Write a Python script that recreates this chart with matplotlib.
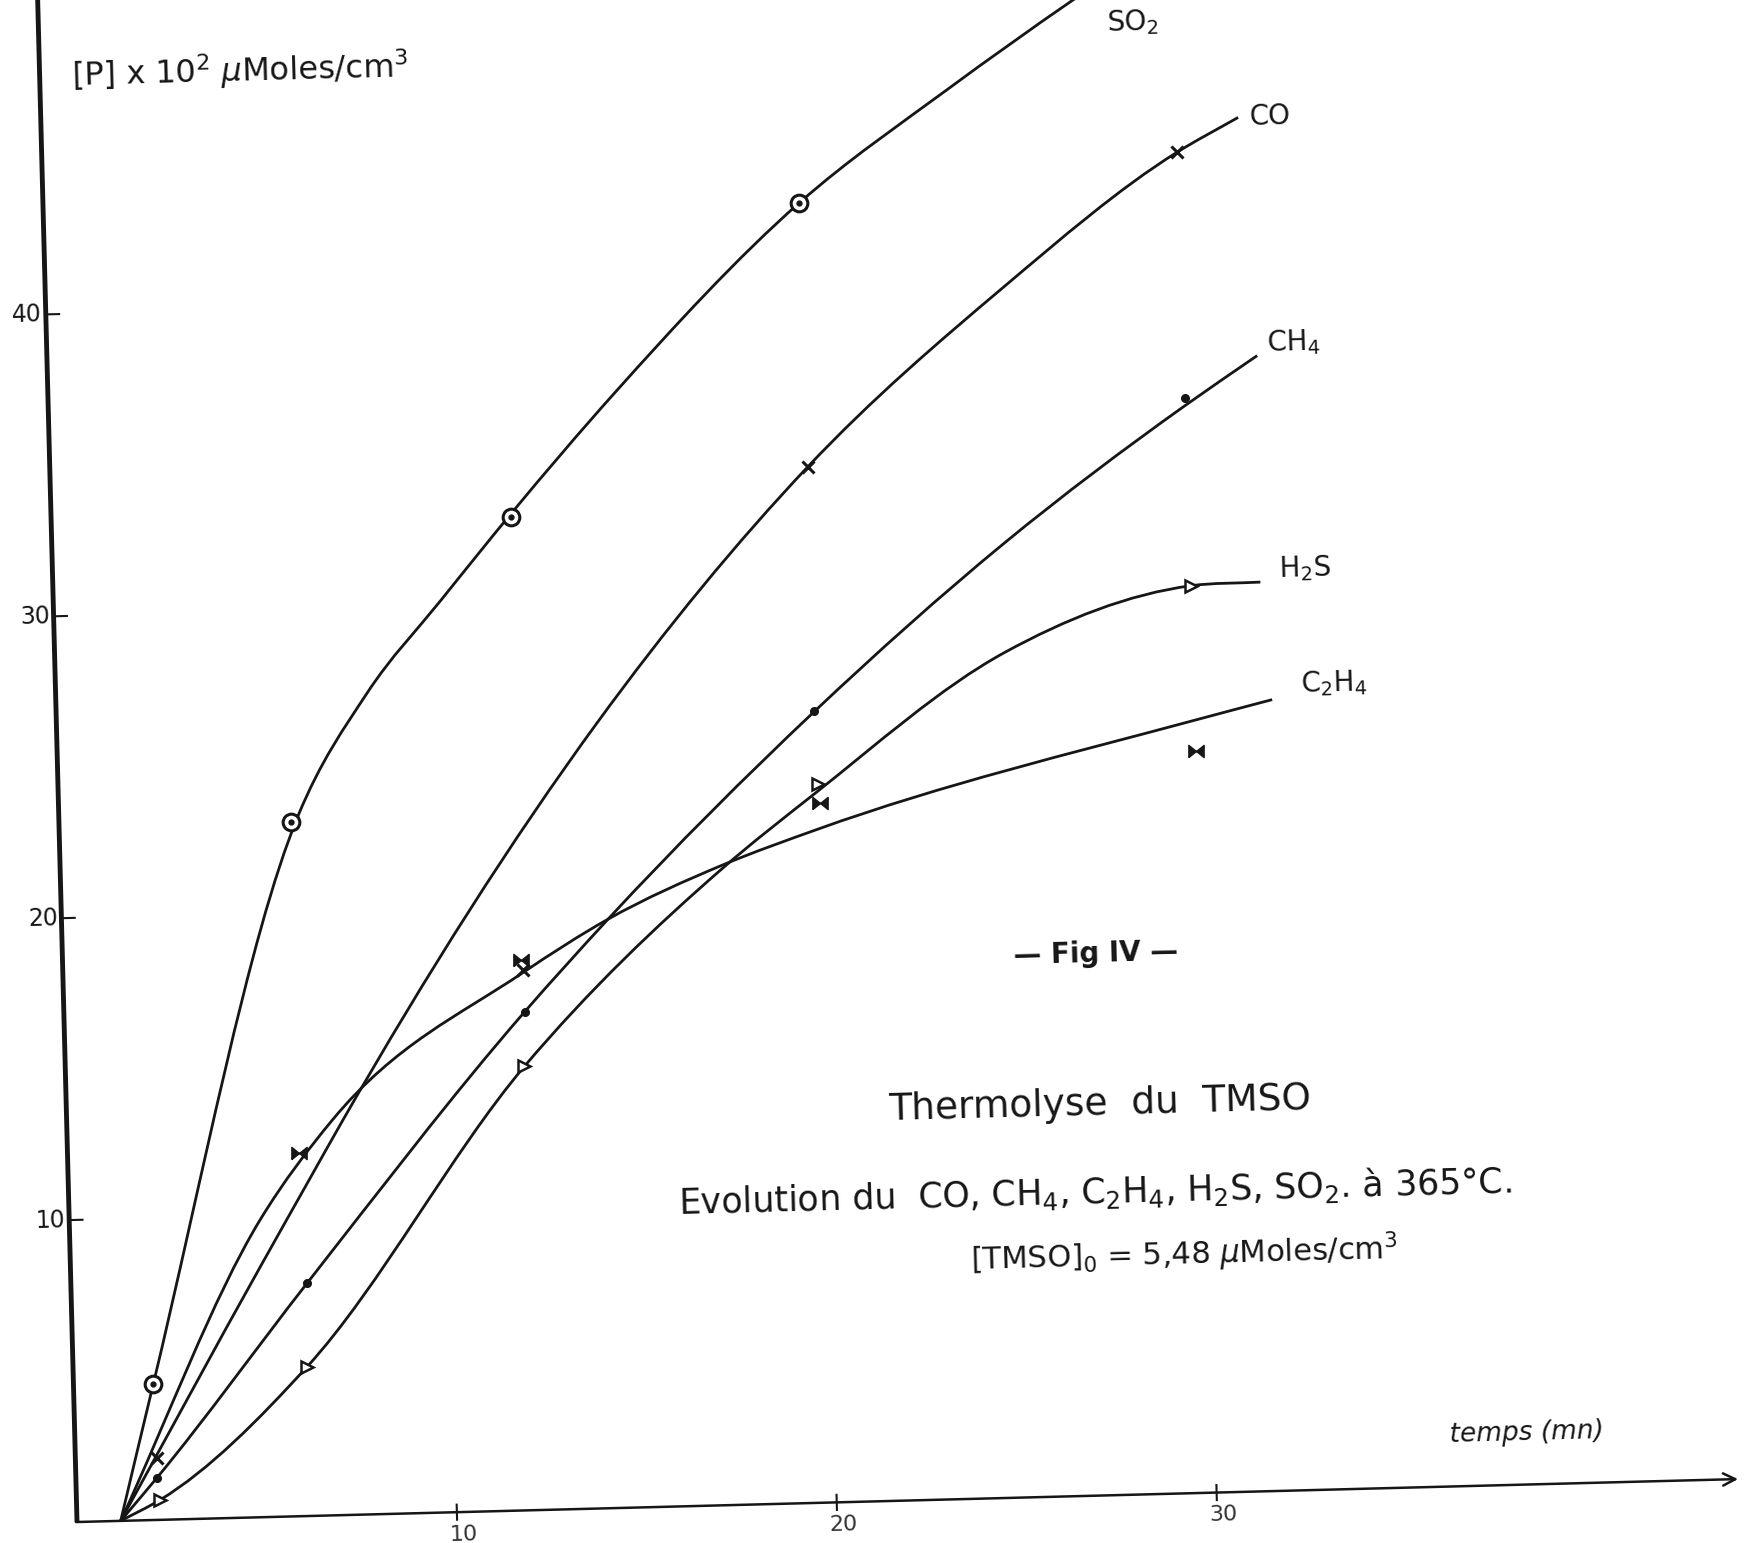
import numpy as np
import matplotlib
matplotlib.use('Agg')
import matplotlib.pyplot as plt
import matplotlib.transforms as mtransforms
from matplotlib.path import Path
from matplotlib.patches import PathPatch

# curves as drawn (time in mn, [P] x 10^2 umoles/cm3)
so2_t = [1.15, 2.1, 6.3, 8.2, 10.2, 12.1, 14.9, 19.9, 23.9, 27.2, 28.0]
so2_v = [0, 4.5, 23.2, 27.2, 30.2, 33.0, 36.9, 43.05, 46.7, 49.5, 50.15]
co_t = [1.15, 4.99, 6.28, 7.27, 14.22, 19.94, 25.2, 29.87, 31.5]
co_v = [0, 8.28, 11.0, 13.08, 26.0, 34.3, 40.07, 44.4, 45.5]
ch4_t = [1.15, 2.13, 6.21, 12.12, 14.38, 19.95, 25.05, 29.9, 31.84]
ch4_v = [0, 1.39, 7.7, 16.5, 19.5, 26.2, 31.6, 36.0, 37.6]
h2s_t = [1.15, 2.2, 6.15, 12.08, 17.44, 19.86, 24.98, 29.95, 31.77]
h2s_v = [0, 0.66, 4.93, 14.7, 21.1, 23.44, 27.98, 30.04, 30.1]
c2h4_t = [1.15, 5.02, 7.0, 12.1, 14.38, 17.44, 19.96, 30.0, 32.0]
c2h4_v = [0, 9.84, 13.1, 17.8, 19.5, 21.2, 22.3, 25.6, 26.2]

# measured points
so2_mt = [2.1, 6.1, 12.1, 19.9]
so2_mv = [4.5, 23.0, 32.9, 43.05]
co_mt = [2.15, 12.1, 19.94, 29.87]
co_mv = [2.05, 17.9, 34.3, 44.4]
ch4_mt = [2.13, 6.21, 12.12, 19.95, 29.9]
ch4_mv = [1.39, 7.7, 16.5, 26.2, 36.25]
h2s_mt = [2.2, 6.15, 12.08, 20.0, 29.95]
h2s_mv = [0.66, 4.93, 14.7, 23.8, 30.04]
c2h4_mt = [6.09, 12.06, 20.04, 29.96]
c2h4_mv = [12.03, 18.23, 23.15, 24.57]

yticks = [10, 20, 30, 40]
xticks = [10, 20, 30]

ink = '#161616'
tilt = 1.48   # the scanned sheet is slightly rotated


def smooth_path(xs, ys):
    xs = np.asarray(xs, float)
    ys = np.asarray(ys, float)
    h = np.diff(xs)
    d = np.diff(ys) / h
    m = np.empty_like(xs)
    m[0] = d[0]
    m[-1] = d[-1]
    m[1:-1] = (d[:-1] * h[1:] + d[1:] * h[:-1]) / (h[:-1] + h[1:])
    verts = [(xs[0], ys[0])]
    codes = [Path.MOVETO]
    for i in range(len(h)):
        verts += [(xs[i] + h[i] / 3, ys[i] + m[i] * h[i] / 3),
                  (xs[i + 1] - h[i] / 3, ys[i + 1] - m[i + 1] * h[i] / 3),
                  (xs[i + 1], ys[i + 1])]
        codes += [Path.CURVE4] * 3
    return Path(verts, codes)


fig = plt.figure(figsize=(17.5, 15.43), dpi=100)
ax = fig.add_axes([0, 0, 1, 1])
ax.set_xlim(-77 / 38, (1750 - 77) / 38)
ax.set_ylim(-21 / 30.2, 1522 / 30.2)
ax.axis('off')

ox, oy = ax.transData.transform((0, 0))
tr = ax.transData + mtransforms.Affine2D().rotate_deg_around(ox, oy, tilt)

# axes
ax.plot([0, 0], [0, 52], color=ink, lw=3.5, transform=tr, solid_capstyle='butt')
ax.annotate('', xy=(43.8, 0), xytext=(-0.1, 0), xycoords=tr, textcoords=tr,
            arrowprops=dict(arrowstyle='->', lw=1.8, color=ink, mutation_scale=22))
for v in yticks:
    ax.plot([0, 0.35], [v, v], color=ink, lw=1.5, transform=tr)
    ax.text(-0.1, v, str(v), transform=tr, rotation=tilt, rotation_mode='anchor',
            ha='right', va='center', fontsize=17, color=ink)
for t in xticks:
    ax.plot([t, t], [-0.25, 0.25], color=ink, lw=1.5, transform=tr)
    ax.text(t + 0.15, -0.75, str(t), transform=tr, rotation=tilt, rotation_mode='anchor',
            ha='center', va='center', fontsize=16, color='#333333')

# curves
for xs, ys in [(so2_t, so2_v), (co_t, co_v), (ch4_t, ch4_v), (h2s_t, h2s_v), (c2h4_t, c2h4_v)]:
    ax.add_patch(PathPatch(smooth_path(xs, ys), fill=False, lw=2.0, edgecolor=ink,
                           transform=tr))

# markers
bowtie = Path([(-1, -0.8), (-1, 0.8), (1, -0.8), (1, 0.8), (-1, -0.8)])
ax.plot(so2_mt, so2_mv, 'o', ms=12, mfc='white', mec=ink, mew=2.2, transform=tr)
ax.plot(so2_mt, so2_mv, 'o', ms=3.5, color=ink, transform=tr)
ax.plot(co_mt, co_mv, 'x', ms=9, mew=2.2, color=ink, transform=tr)
ax.plot(ch4_mt, ch4_mv, 'o', ms=5.5, color=ink, transform=tr)
ax.plot(h2s_mt, h2s_mv, '>', ms=9, mfc='white', mec=ink, mew=1.8, transform=tr)
ax.plot(c2h4_mt, c2h4_mv, marker=bowtie, ls='none', ms=11, color=ink, transform=tr)

# series labels
kw = dict(transform=tr, rotation=tilt, rotation_mode='anchor', ha='left', va='center',
          fontsize=20, color=ink)
ax.text(28.1, 48.75, r'SO$_2$', **kw)
ax.text(31.8, 45.5, 'CO', **kw)
ax.text(32.1, 38.0, r'CH$_4$', **kw)
ax.text(32.25, 30.5, r'H$_2$S', **kw)
ax.text(32.75, 26.7, r'C$_2$H$_4$', **kw)

# axis titles
ax.text(0.85, 47.9, r'$[\mathrm{P}]$ x 10$^2$ $\mu$Moles/cm$^3$', transform=tr, rotation=tilt,
        rotation_mode='anchor', ha='left', va='center', fontsize=23, color=ink)
ax.text(38.2, 1.7, 'temps (mn)', transform=tr, rotation=tilt, rotation_mode='anchor',
        ha='center', va='center', fontsize=19, style='italic', color=ink)

# figure captions
ck = dict(transform=tr, rotation=tilt, rotation_mode='anchor', ha='center', va='center',
          color=ink)
ax.text(27.2, 17.95, '— Fig IV —', fontsize=20, weight='bold', **ck)
ax.text(27.2, 12.95, 'Thermolyse  du  TMSO', fontsize=27, **ck)
ax.text(27.0, 10.05, r'Evolution du  CO, CH$_4$, C$_2$H$_4$, H$_2$S, SO$_2$. à 365°C.',
        fontsize=25, **ck)
ax.text(29.3, 7.9, r'$\left[\mathrm{TMSO}\right]_0$ = 5,48 $\mu$Moles/cm$^3$', fontsize=22, **ck)

fig.savefig('out.png', dpi=100, facecolor='white')
